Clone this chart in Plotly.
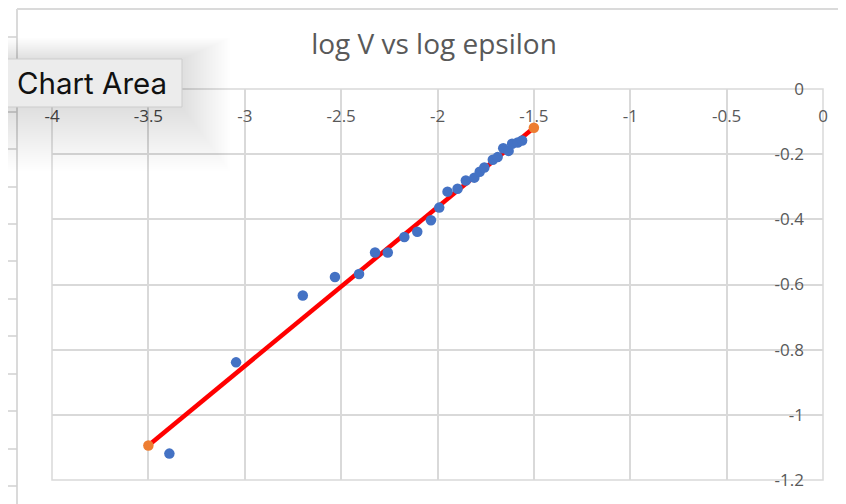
import plotly.graph_objects as go

# ---- data ----
log_eps = [-3.391, -3.045, -2.699, -2.532, -2.407, -2.324, -2.258, -2.172, -2.105,
           -2.034, -1.991, -1.948, -1.896, -1.853, -1.809, -1.781, -1.757, -1.713,
           -1.688, -1.659, -1.631, -1.613, -1.584, -1.561]
log_v = [-1.119, -0.839, -0.634, -0.577, -0.568, -0.502, -0.502, -0.454, -0.438,
         -0.403, -0.364, -0.315, -0.306, -0.281, -0.272, -0.254, -0.241, -0.217,
         -0.209, -0.182, -0.190, -0.168, -0.164, -0.158]
fit_x = [-3.5, -1.5]
fit_y = [-1.094, -0.119]

x_tickvals = [-4, -3.5, -3, -2.5, -2, -1.5, -1, -0.5, 0]
x_ticktext = ["-4", "-3.5", "-3", "-2.5", "-2", "-1.5", "-1", "-0.5", "0"]
y_tickvals = [0, -0.2, -0.4, -0.6, -0.8, -1, -1.2]
y_ticktext = ["0", "-0.2", "-0.4", "-0.6", "-0.8", "-1", "-1.2"]

title_text = "log V vs log epsilon"
tooltip_text = "Chart Area"

# ---- layout geometry ----
# the page body has an 8px margin, so the figure starts at screen (8, 8)
OFF = 8
W, H = 846 - OFF, 504 - OFF
ML, MR, MT, MB = 52 - OFF, 23, 89 - OFF, 24
PW, PH = W - ML - MR, H - MT - MB


def xp(sx):
    """screen x pixel -> paper fraction"""
    return (sx - OFF - ML) / PW


def yp(sy):
    """screen y pixel -> paper fraction"""
    return (H - MB - (sy - OFF)) / PH


GRID = "#d9d9d9"
TXT = "#595959"

fig = go.Figure()
fig.add_trace(go.Scatter(x=fit_x, y=fit_y, mode="lines",
                         line=dict(color="#ff0000", width=4.5),
                         hoverinfo="skip", showlegend=False))
fig.add_trace(go.Scatter(x=log_eps, y=log_v, mode="markers",
                         marker=dict(color="#4472c4", size=10.5),
                         showlegend=False))
fig.add_trace(go.Scatter(x=fit_x, y=fit_y, mode="markers",
                         marker=dict(color="#ed7d31", size=10.5),
                         showlegend=False))

shapes = []
# plot-area border
shapes.append(dict(type="rect", xref="paper", yref="paper", x0=0, x1=1, y0=0, y1=1,
                   line=dict(color=GRID, width=1.5), layer="below"))
# chart-area border (Excel frame)
shapes.append(dict(type="line", xref="paper", yref="paper", x0=xp(17), x1=xp(900),
                   y0=yp(9), y1=yp(9), line=dict(color="#dadada", width=2)))
shapes.append(dict(type="line", xref="paper", yref="paper", x0=xp(17), x1=xp(17),
                   y0=yp(9), y1=yp(560), line=dict(color="#dadada", width=2)))
# spreadsheet row marks on the far left
for r in [37, 74, 112, 149, 187, 224, 261, 299, 336, 374, 411, 449, 486]:
    shapes.append(dict(type="line", xref="paper", yref="paper", x0=xp(0), x1=xp(17),
                       y0=yp(r), y1=yp(r), line=dict(color="#d0d0d0", width=1.5)))
# tooltip shadow (soft, layered)
N = 32
for i in range(N, 0, -1):
    d = i * 1.5
    shapes.append(dict(type="rect", xref="paper", yref="paper",
                       x0=xp(7 - d), x1=xp(182 + d),
                       y0=yp(59 - d * 0.8 + d * 0.35), y1=yp(107 + d + d * 0.35),
                       line=dict(width=0), fillcolor="rgba(0,0,0,0.0026)", layer="above"))
# tooltip box
shapes.append(dict(type="rect", xref="paper", yref="paper", x0=xp(7), x1=xp(182),
                   y0=yp(59), y1=yp(107), fillcolor="#ececec",
                   line=dict(color="#cdcdcd", width=1), layer="above"))

annotations = [
    dict(text=tooltip_text, xref="paper", yref="paper", x=xp(92), y=yp(83),
         xanchor="center", yanchor="middle", showarrow=False,
         font=dict(family="Inter", size=29.5, color="#111111")),
]

fig.update_layout(
    width=W, height=H,
    margin=dict(l=ML, r=MR, t=MT, b=MB),
    paper_bgcolor="white", plot_bgcolor="white",
    title=dict(text=title_text, x=xp(434), y=1 - (44 - OFF) / H,
               xref="paper", yref="container",
               xanchor="center", yanchor="middle",
               font=dict(family="Open Sans", size=28, color=TXT)),
    shapes=shapes, annotations=annotations,
    xaxis=dict(range=[-4, 0], tickvals=x_tickvals, ticktext=x_ticktext,
               side="bottom", anchor="free", position=yp(104),
               showgrid=True, gridcolor=GRID, gridwidth=1.5,
               zeroline=False, showline=False, ticks="",
               tickfont=dict(family="Open Sans", size=17, color=TXT)),
    yaxis=dict(range=[-1.2, 0], tickvals=y_tickvals, ticktext=y_ticktext,
               side="left", anchor="free", position=xp(804),
               showgrid=True, gridcolor=GRID, gridwidth=1.5,
               zeroline=False, showline=False, ticks="",
               tickfont=dict(family="Open Sans", size=17, color=TXT)),
)

fig.write_html("out.html")
